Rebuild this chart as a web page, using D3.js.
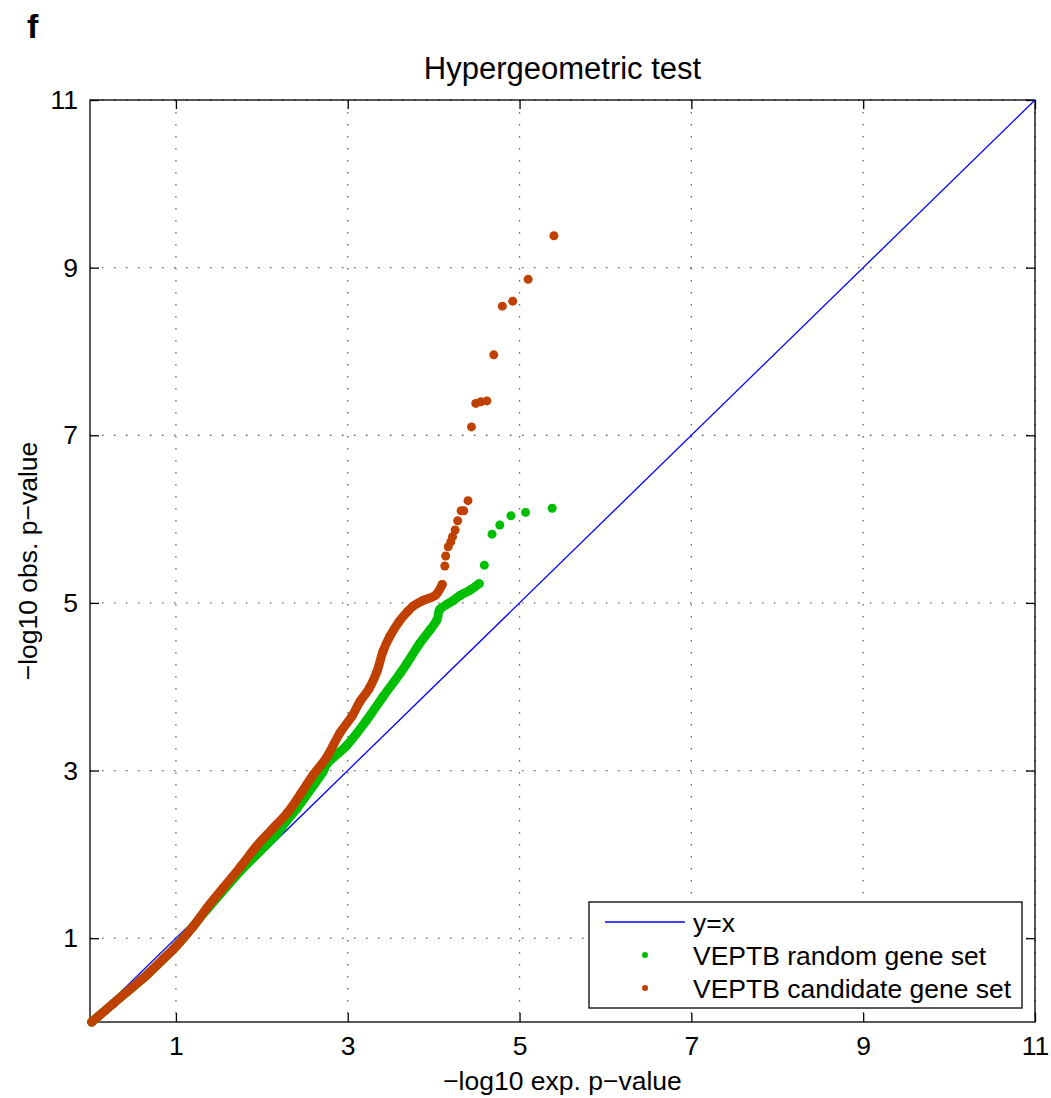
<!DOCTYPE html>
<html><head><meta charset="utf-8">
<script src="https://cdn.jsdelivr.net/npm/d3@7"></script>
<style>
html,body{margin:0;padding:0;background:#fff;}
text{font-family:"Liberation Sans",Arial,Helvetica,sans-serif;fill:#000;}
</style></head>
<body>
<svg id="chart" width="1051" height="1098"></svg>
<script>
const xTicks = [1, 3, 5, 7, 9, 11];
const yTicks = [1, 3, 5, 7, 9, 11];
const titleText = "Hypergeometric test";
const xLabel = "\u2212log10 exp. p\u2212value";
const yLabel = "\u2212log10 obs. p\u2212value";
const legendLabels = ["y=x", "VEPTB random gene set", "VEPTB candidate gene set"];

// dense part of the candidate gene set QQ points (x = expected, y = observed)
const candidateDenseX = [0.02,0.1,0.27,0.5,0.66,0.85,1.0,1.2,1.36,1.55,1.75,1.94,2.12,2.3,2.45,2.6,2.75,2.91,3.05,3.14,3.25,3.34,3.41,3.49,3.6,3.7,3.76,3.88,4.02,4.1];
const candidateDenseY = [0.0,0.07,0.22,0.42,0.56,0.75,0.9,1.14,1.36,1.6,1.85,2.1,2.3,2.5,2.72,2.95,3.15,3.45,3.65,3.82,3.98,4.18,4.42,4.6,4.78,4.9,4.96,5.03,5.09,5.22];
// sparse tail of candidate set
const candidateTailX = [4.13,4.14,4.17,4.2,4.22,4.25,4.28,4.32,4.35,4.4,4.44,4.49,4.55,4.62,4.7,4.8,4.92,5.1,5.4];
const candidateTailY = [5.44,5.56,5.67,5.73,5.79,5.87,5.98,6.1,6.1,6.22,7.1,7.38,7.4,7.41,7.96,8.54,8.6,8.86,9.38];

// random gene set
const randomDenseX = [0.02,0.27,0.66,1.0,1.36,1.75,2.0,2.18,2.29,2.41,2.6,2.71,2.76,2.99,3.22,3.41,3.61,3.69,3.84,3.96,4.04,4.07,4.15,4.23,4.31,4.42,4.53];
const randomDenseY = [0.0,0.22,0.56,0.9,1.34,1.8,2.06,2.25,2.4,2.55,2.82,2.98,3.08,3.3,3.6,3.88,4.16,4.28,4.52,4.68,4.8,4.92,4.98,5.03,5.09,5.15,5.23];
const randomTailX = [4.59,4.68,4.77,4.9,5.07,5.38];
const randomTailY = [5.45,5.82,5.93,6.04,6.08,6.13];

const diagonal = [0, 11];

const colRed = "#c04000", colGreen = "#00bf00", colBlue = "#0000ff";

const svg = d3.select("#chart");
const L = 90, R = 1035, T = 100, B = 1022;
const x = d3.scaleLinear().domain([0, 11]).range([L, R]);
const y = d3.scaleLinear().domain([0, 11]).range([B, T]);

const zip = (xs, ys) => xs.map((v, i) => [v, ys[i]]);

// grid
const g = svg.append("g");
g.selectAll(".gx").data(xTicks).join("line")
  .attr("x1", d => x(d)).attr("x2", d => x(d)).attr("y1", T).attr("y2", B)
  .attr("stroke", "#666").attr("stroke-width", 1.3).attr("stroke-dasharray", "1.5,10.5");
g.selectAll(".gy").data(yTicks).join("line")
  .attr("y1", d => y(d)).attr("y2", d => y(d)).attr("x1", L).attr("x2", R)
  .attr("stroke", "#666").attr("stroke-width", 1.3).attr("stroke-dasharray", "1.5,10.5");

// axes
const fs = 26.5;
const xAxis = d3.axisBottom(x).tickValues(xTicks).tickSizeInner(-9).tickSizeOuter(0).tickPadding(14);
const yAxis = d3.axisLeft(y).tickValues(yTicks).tickSizeInner(-9).tickSizeOuter(0).tickPadding(12);
const xa = svg.append("g").attr("transform", `translate(0,${B})`).call(xAxis);
const ya = svg.append("g").attr("transform", `translate(${L},0)`).call(yAxis);
const xt = svg.append("g").attr("transform", `translate(0,${T})`).call(d3.axisTop(x).tickValues(xTicks).tickSizeInner(-9).tickSizeOuter(0).tickFormat(""));
const yr = svg.append("g").attr("transform", `translate(${R},0)`).call(d3.axisRight(y).tickValues(yTicks).tickSizeInner(-9).tickSizeOuter(0).tickFormat(""));
[xa, ya, xt, yr].forEach(a => {
  a.select(".domain").remove();
  a.selectAll("line").attr("stroke", "#000").attr("stroke-width", 1.3);
  a.selectAll("text").attr("font-size", fs).attr("font-family", "Liberation Sans, Arial, sans-serif").attr("fill", "#000");
});
svg.append("rect").attr("x", L).attr("y", T).attr("width", R - L).attr("height", B - T)
  .attr("fill", "none").attr("stroke", "#000").attr("stroke-width", 1.3);

// y=x line
svg.append("line").attr("x1", x(diagonal[0])).attr("y1", y(diagonal[0]))
  .attr("x2", x(diagonal[1])).attr("y2", y(diagonal[1]))
  .attr("stroke", colBlue).attr("stroke-width", 1.3);

const line = d3.line().x(d => x(d[0])).y(d => y(d[1])).curve(d3.curveCatmullRom.alpha(0.5));
function series(dx, dy, tx, ty, col) {
  const dense = zip(dx, dy), tail = zip(tx, ty);
  svg.append("path").datum(dense).attr("d", line).attr("fill", "none")
    .attr("stroke", col).attr("stroke-width", 9).attr("stroke-linecap", "round").attr("stroke-linejoin", "round");
  svg.append("g").selectAll("circle").data(dense.concat(tail)).join("circle")
    .attr("cx", d => x(d[0])).attr("cy", d => y(d[1])).attr("r", 4.5).attr("fill", col);
}
series(randomDenseX, randomDenseY, randomTailX, randomTailY, colGreen);
series(candidateDenseX, candidateDenseY, candidateTailX, candidateTailY, colRed);

// title & labels
svg.append("text").attr("x", (L + R) / 2).attr("y", 79).attr("text-anchor", "middle")
  .attr("font-size", 31).text(titleText);
svg.append("text").attr("x", (L + R) / 2).attr("y", 1090).attr("text-anchor", "middle")
  .attr("font-size", fs).text(xLabel);
svg.append("text").attr("transform", `translate(37,${(T + B) / 2}) rotate(-90)`).attr("text-anchor", "middle")
  .attr("font-size", fs).text(yLabel);
svg.append("text").attr("x", 27).attr("y", 38).attr("font-size", 34).attr("font-weight", "bold").text("f");

// legend
const lg = svg.append("g");
lg.append("rect").attr("x", 589).attr("y", 902).attr("width", 433).attr("height", 106)
  .attr("fill", "#fff").attr("stroke", "#000").attr("stroke-width", 1.3);
const rowsY = [922, 955, 988];
lg.append("line").attr("x1", 605).attr("x2", 685).attr("y1", rowsY[0]).attr("y2", rowsY[0])
  .attr("stroke", colBlue).attr("stroke-width", 1.3);
lg.append("circle").attr("cx", 645).attr("cy", rowsY[1]).attr("r", 3).attr("fill", colGreen);
lg.append("circle").attr("cx", 645).attr("cy", rowsY[2]).attr("r", 3).attr("fill", colRed);
lg.selectAll("text").data(legendLabels).join("text")
  .attr("x", 693).attr("y", (d, i) => rowsY[i] + 9.5).attr("font-size", fs).text(d => d);
</script>
</body></html>
